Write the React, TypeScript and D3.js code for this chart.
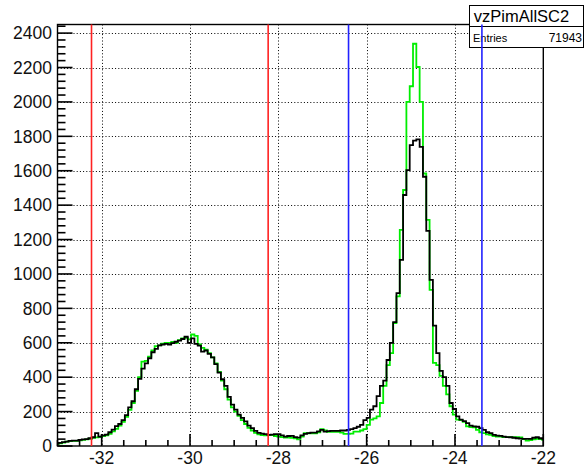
import React from "react";
import * as d3 from "d3";

// Histogram definition (ROOT-style fixed bins)
const binStart = -33.05;
const binWidth = 0.075;

// Black histogram (bin contents)
const blackCounts = [
  14, 18, 22, 25, 30, 31, 31, 36, 39, 40, 45, 51, 75, 55, 62, 66, 80, 95, 115, 128,
  150, 180, 225, 260, 330, 390, 450, 480, 510, 545, 565, 585, 590, 594, 590, 598, 606, 612, 622, 635,
  600, 625, 594, 584, 548, 555, 535, 515, 476, 427, 388, 349, 285, 241, 212, 182, 163, 143, 118, 104,
  88, 76, 72, 69, 65, 66, 69, 69, 62, 55, 58, 59, 52, 49, 62, 70, 75, 78, 78, 85,
  94, 84, 86, 88, 88, 88, 90, 90, 94, 98, 104, 112, 123, 150, 163, 212, 231, 290, 349, 380,
  500, 600, 720, 889, 1082, 1459, 1604, 1749, 1775, 1782, 1739, 1565, 1250, 966, 700, 540, 437, 400, 349, 250,
  215, 172, 153, 145, 133, 118, 114, 112, 104, 94, 80, 75, 65, 60, 59, 55, 52, 51, 48, 45,
  43, 41, 41, 41, 48, 51, 45, 41,
];

// Green histogram (bin contents)
const greenCounts = [
  12, 16, 20, 25, 28, 30, 30, 33, 36, 38, 42, 48, 50, 52, 58, 62, 70, 85, 100, 118,
  140, 170, 210, 250, 320, 400, 490, 495, 520, 555, 580, 585, 595, 600, 600, 605, 600, 615, 625, 628,
  620, 648, 640, 590, 570, 560, 540, 515, 480, 430, 380, 330, 270, 225, 200, 175, 150, 128, 105, 90,
  76, 68, 64, 62, 63, 64, 58, 55, 52, 49, 49, 48, 45, 39, 55, 74, 74, 74, 74, 80,
  98, 90, 82, 82, 82, 82, 78, 70, 70, 72, 84, 84, 90, 98, 123, 153, 160, 172, 250, 349,
  470, 540, 715, 870, 1256, 1488, 2000, 2091, 2338, 2203, 2000, 1584, 1314, 908, 483, 470, 408, 349, 300, 231,
  182, 153, 150, 140, 114, 110, 108, 94, 80, 75, 68, 65, 58, 55, 55, 52, 52, 52, 51, 51,
  50, 40, 31, 35, 38, 42, 40, 36,
];

// Cut lines
const redCuts = [-32.23, -28.23];
const blueCuts = [-26.41, -23.39];

// Axis ticks
const xMajorTicks = [-32, -30, -28, -26, -24, -22];
const yMajorTicks = [0, 200, 400, 600, 800, 1000, 1200, 1400, 1600, 1800, 2000, 2200, 2400];

const statTitle = "vzPimAllSC2";
const statLabel = "Entries";
const statValue = "71943";

const W = 585;
const H = 467;
const L = 57.5;
const R = 543.3;
const T = 24.5;
const B = 446;

const font = "'Liberation Sans', Arial, Helvetica, sans-serif";

function stepPath(counts: number[], x: d3.ScaleLinear<number, number>, y: d3.ScaleLinear<number, number>) {
  const pts: [number, number][] = [];
  counts.forEach((c, i) => {
    const lo = binStart + i * binWidth;
    const hi = lo + binWidth;
    pts.push([x(lo), y(c)]);
    pts.push([x(hi), y(c)]);
  });
  return d3.line()(pts) || "";
}

export default function App() {
  const x = d3.scaleLinear().domain([-33, -22]).range([L, R]);
  const y = d3.scaleLinear().domain([0, 2450]).range([B, T]);

  const xMinor = d3.range(-33, -21.99, 0.5).filter((v) => !xMajorTicks.some((m) => Math.abs(m - v) < 1e-6));
  const yMinor = d3.range(0, 2441, 40).filter((v) => v % 200 !== 0);

  return (
    <svg width={W} height={H} style={{ position: "absolute", left: 0, top: 0, background: "#fff" }}>
      <defs>
        <clipPath id="frame">
          <rect x={L} y={T} width={R - L} height={B - T} />
        </clipPath>
      </defs>
      <rect x={0} y={0} width={W} height={H} fill="#fff" />

      {/* grid */}
      <g stroke="#000" strokeWidth={1} strokeDasharray="1,2.2">
        {yMajorTicks.filter((v) => v > 0).map((v) => (
          <line key={"gy" + v} x1={L} x2={R} y1={Math.round(y(v)) + 0.5} y2={Math.round(y(v)) + 0.5} />
        ))}
        {xMajorTicks.filter((v) => v < -22).map((v) => (
          <line key={"gx" + v} x1={Math.round(x(v)) + 0.5} x2={Math.round(x(v)) + 0.5} y1={T} y2={B} />
        ))}
      </g>

      {/* histograms */}
      <g clipPath="url(#frame)" fill="none">
        <path d={stepPath(greenCounts, x, y)} stroke="#00ee00" strokeWidth={1.8} />
        <path d={stepPath(blackCounts, x, y)} stroke="#000" strokeWidth={1.8} />
      </g>

      {/* frame */}
      <rect x={L} y={T} width={R - L} height={B - T} fill="none" stroke="#000" strokeWidth={1.4} />

      {/* y ticks */}
      <g stroke="#000" strokeWidth={1.6}>
        {yMajorTicks.map((v) => (
          <line key={"ty" + v} x1={L} x2={L + 15} y1={y(v)} y2={y(v)} />
        ))}
        {yMinor.map((v) => (
          <line key={"tym" + v} x1={L} x2={L + 8} y1={y(v)} y2={y(v)} />
        ))}
        {xMajorTicks.map((v) => (
          <line key={"tx" + v} x1={x(v)} x2={x(v)} y1={B} y2={B - 12} />
        ))}
        {xMinor.map((v) => (
          <line key={"txm" + v} x1={x(v)} x2={x(v)} y1={B} y2={B - 6} />
        ))}
      </g>

      {/* tick labels */}
      <g fontFamily={font} fontSize={17.5} fill="#111">
        {yMajorTicks.map((v) => (
          <text key={"ly" + v} x={52} y={y(v)} dy="0.36em" textAnchor="end">
            {v}
          </text>
        ))}
        {xMajorTicks.map((v) => (
          <text key={"lx" + v} x={x(v)} y={463.5} textAnchor="middle">
            {v}
          </text>
        ))}
      </g>

      {/* stat box */}
      <g>
        <rect x={469.5} y={5.5} width={114} height={42} fill="#fff" stroke="#000" strokeWidth={1} />
        <line x1={469.5} x2={583.5} y1={26.5} y2={26.5} stroke="#000" strokeWidth={1} />
        <text x={521.5} y={22} textAnchor="middle" fontFamily={font} fontSize={16.5}>
          {statTitle}
        </text>
        <text x={473} y={42} fontFamily={font} fontSize={11}>
          {statLabel}
        </text>
        <text x={582} y={42} textAnchor="end" fontFamily={font} fontSize={12}>
          {statValue}
        </text>
      </g>

      {/* cut lines */}
      <g strokeWidth={1.6}>
        {redCuts.map((v) => (
          <line key={"r" + v} x1={x(v)} x2={x(v)} y1={T} y2={B} stroke="#ff2222" />
        ))}
        {blueCuts.map((v) => (
          <line key={"b" + v} x1={x(v)} x2={x(v)} y1={T} y2={B} stroke="#2222ff" />
        ))}
      </g>
    </svg>
  );
}
